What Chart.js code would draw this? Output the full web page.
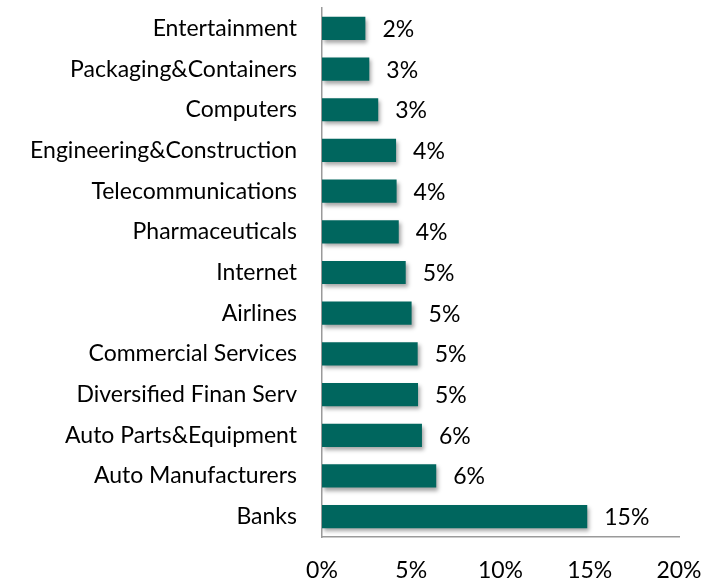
<!DOCTYPE html>
<html lang="en">
<head>
    <meta charset="UTF-8">
    <title>Industry breakdown</title>
    <script src="https://cdn.jsdelivr.net/npm/chart.js@4.4.0/dist/chart.umd.min.js"></script>
    <style>
        html, body { margin: 0; padding: 0; background: #fff; }
        .wrap { width: 718px; height: 583px; }
    </style>
</head>
<body>
    <div class="wrap"><canvas id="miCanvas" width="718" height="583"></canvas></div>
    <script>
        // categories and shares (percent)
        const industries = ["Entertainment", "Packaging&Containers", "Computers", "Engineering&Construction",
            "Telecommunications", "Pharmaceuticals", "Internet", "Airlines", "Commercial Services",
            "Diversified Finan Serv", "Auto Parts&Equipment", "Auto Manufacturers", "Banks"];
        const shares = [2.43, 2.65, 3.15, 4.15, 4.18, 4.3, 4.69, 5.02, 5.36, 5.38, 5.6, 6.4, 14.86];
        const xTicks = [0, 5, 10, 15, 20];

        const fontFam = "Lato, 'Open Sans', sans-serif";
        const fontSize = 23;

        // soft shadow under the bars
        const barShadow = {
            id: 'barShadow',
            beforeDatasetsDraw(chart) {
                const ctx = chart.ctx;
                ctx.save();
                ctx.shadowColor = 'rgba(0,0,0,0.35)';
                ctx.shadowBlur = 4;
                ctx.shadowOffsetX = 2;
                ctx.shadowOffsetY = 3;
            },
            afterDatasetsDraw(chart) {
                chart.ctx.restore();
            }
        };

        // value labels at the end of each bar
        const valueLabels = {
            id: 'valueLabels',
            afterDatasetsDraw(chart) {
                const ctx = chart.ctx;
                const meta = chart.getDatasetMeta(0);
                ctx.save();
                ctx.font = fontSize + "px " + fontFam;
                ctx.fillStyle = '#000';
                ctx.textAlign = 'left';
                ctx.textBaseline = 'middle';
                meta.data.forEach((bar, i) => {
                    ctx.fillText(Math.round(shares[i]) + '%', bar.x + 17, bar.y + 1);
                });
                ctx.restore();
            }
        };

        new Chart(document.getElementById("miCanvas").getContext("2d"), {
            type: "bar",
            data: {
                labels: industries,
                datasets: [{
                    data: shares,
                    backgroundColor: '#00665e',
                    barPercentage: 0.57,
                    categoryPercentage: 1
                }]
            },
            options: {
                indexAxis: 'y',
                responsive: false,
                animation: false,
                layout: { padding: { top: 0, right: 39, left: 0, bottom: 0 } },
                plugins: { legend: { display: false }, tooltip: { enabled: false } },
                scales: {
                    x: {
                        min: 0,
                        max: 20,
                        afterBuildTicks(scale) {
                            scale.ticks = xTicks.map(v => ({ value: v }));
                        },
                        afterFit(scale) { scale.height = 46; },
                        grid: { display: false, tickLength: 8 },
                        border: { display: true, color: '#9a9a9a', width: 1.5 },
                        ticks: {
                            color: '#000',
                            padding: 12,
                            maxRotation: 0,
                            font: { family: fontFam, size: fontSize },
                            callback: v => v + '%'
                        }
                    },
                    y: {
                        afterFit(scale) { scale.width = 322; },
                        grid: { display: false, tickLength: 25 },
                        border: { display: true, color: '#9a9a9a', width: 1.5 },
                        ticks: {
                            color: '#000',
                            padding: 0,
                            font: { family: fontFam, size: fontSize, lineHeight: 0.7 }
                        }
                    }
                }
            },
            plugins: [barShadow, valueLabels]
        });
    </script>
</body>
</html>
